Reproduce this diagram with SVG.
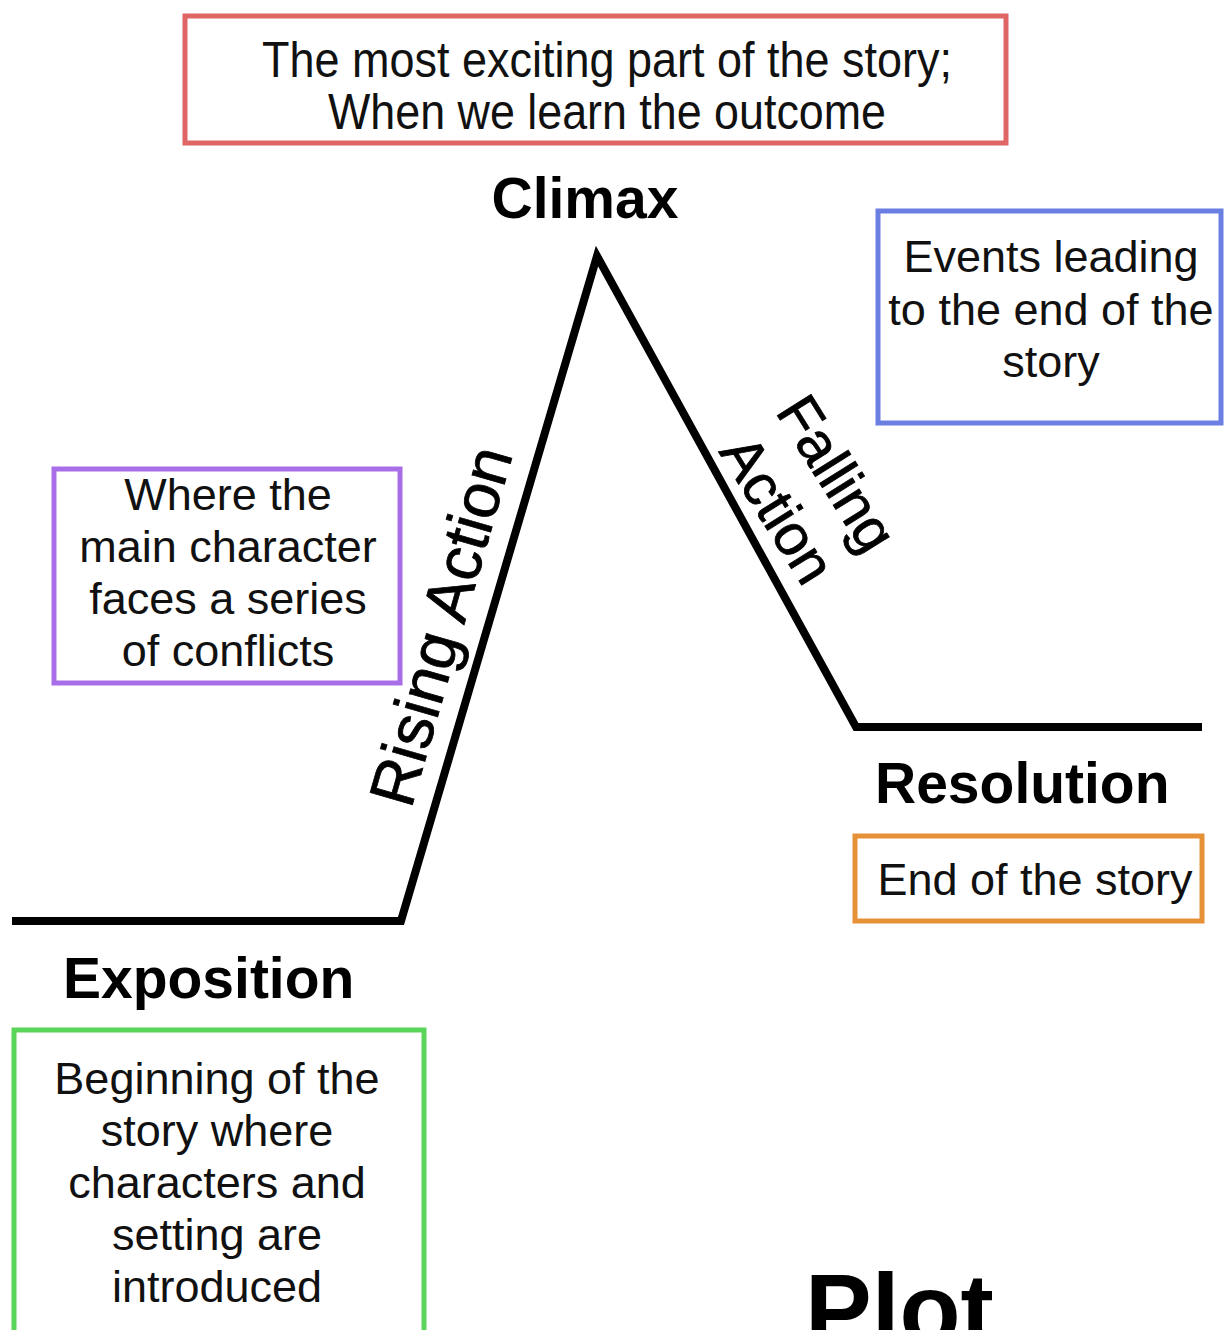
<svg xmlns="http://www.w3.org/2000/svg" width="1225" height="1330" viewBox="0 0 1225 1330">
<style>
.box{fill:#ffffff;stroke-width:5}
.t{font-family:"Liberation Sans",Arial,sans-serif;font-size:45px;fill:#111;text-anchor:middle}
.b{font-family:"Liberation Sans",Arial,sans-serif;font-weight:bold;font-size:57px;fill:#000}
.r{font-family:"Liberation Sans",Arial,sans-serif;font-size:64px;fill:#000;text-anchor:middle;stroke:#000;stroke-width:0.8}
</style>
<rect width="1225" height="1330" fill="#ffffff"/>
<g id="connectors">
<polyline points="12,921 401,921 597,256 856,727 1202,727" fill="none" stroke="#000" stroke-width="8" stroke-linejoin="miter" stroke-miterlimit="20"/>
</g>
<g id="climax-box">
<rect class="box" x="185" y="16" width="821" height="127" stroke="#e06666"/>
<text class="t" x="607" y="77" style="font-size:50px" textLength="690" lengthAdjust="spacingAndGlyphs">The most exciting part of the story;</text>
<text class="t" x="607" y="129" style="font-size:50px" textLength="558" lengthAdjust="spacingAndGlyphs">When we learn the outcome</text>
</g>
<g id="falling-box">
<rect class="box" x="878" y="211" width="343" height="212" stroke="#6b7fe3"/>
<text class="t" x="1051" y="272">Events leading</text>
<text class="t" x="1051" y="325">to the end of the</text>
<text class="t" x="1051" y="377">story</text>
</g>
<g id="rising-box">
<rect class="box" x="54" y="469" width="346" height="214" stroke="#a86ee8"/>
<text class="t" x="228" y="510">Where the</text>
<text class="t" x="228" y="562">main character</text>
<text class="t" x="228" y="614">faces a series</text>
<text class="t" x="228" y="666">of conflicts</text>
</g>
<g id="resolution-box">
<rect class="box" x="855" y="836" width="347" height="85" stroke="#e69138"/>
<text class="t" x="1035" y="895">End of the story</text>
</g>
<g id="exposition-box">
<rect class="box" x="14" y="1030" width="410" height="310" stroke="#5ad55a"/>
<text class="t" x="217" y="1094">Beginning of the</text>
<text class="t" x="217" y="1146">story where</text>
<text class="t" x="217" y="1198">characters and</text>
<text class="t" x="217" y="1250">setting are</text>
<text class="t" x="217" y="1302">introduced</text>
</g>
<g id="labels">
<text class="b" x="585" y="218" text-anchor="middle">Climax</text>
<text class="b" x="875" y="803">Resolution</text>
<text class="b" x="63" y="998">Exposition</text>
<text class="b" x="805" y="1344" style="font-size:100px">Plot</text>
<text class="r" transform="translate(462,632) rotate(-74)">Rising Action</text>
<text class="r" style="font-size:58px" transform="translate(820,484) rotate(58)">Falling</text>
<text class="r" style="font-size:58px" transform="translate(761,520) rotate(58)">Action</text>
</g>
</svg>
